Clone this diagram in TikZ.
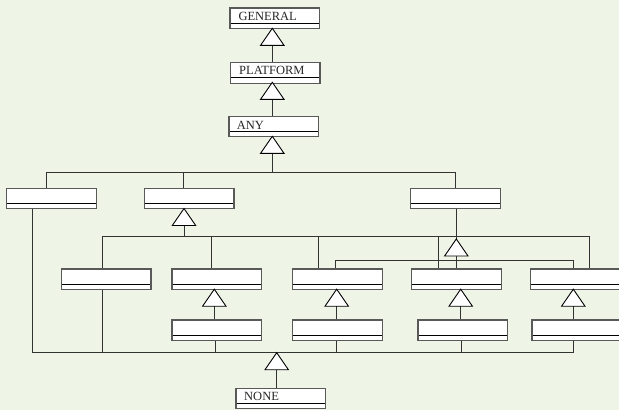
\documentclass[tikz,border=0pt]{standalone}
\usepackage{fontspec}
\setmainfont{Liberation Serif}
\definecolor{bgc}{RGB}{238,244,230}
\begin{document}
\begin{tikzpicture}[x=1pt,y=-1pt,
  cls/.style={draw=black!65, line width=1.2pt, fill=white, rectangle, inner sep=0pt,
    minimum height=20.5pt, anchor=north west,
    path picture={\draw[black, line width=0.8pt]
      ([yshift=5.5pt]path picture bounding box.south west) --
      ([yshift=5.5pt]path picture bounding box.south east);}},
  conn/.style={draw=black!80, line width=0.9pt},
  tris/.style={draw=black, line width=0.9pt, fill=white, line join=miter},
  tri/.pic={\draw[tris] (0,0) -- (-11.7,17) -- (11.7,17) -- cycle;
            \coordinate (-base) at (0,17);},
  lbl/.style={anchor=base west, inner sep=0pt, font=\fontsize{12.5}{14}\selectfont, text=black!85}
]
\fill[bgc] (0,0) rectangle (619,410);
\useasboundingbox (0,0) rectangle (619,410);

% ---------- coordinates of buses ----------
\coordinate (h1) at (272.3,172);
\coordinate (j1) at (46,172);
\coordinate (j2) at (183,172);
\coordinate (j3) at (455.5,172);
\coordinate (b1w) at (102.3,236);
\coordinate (b1e) at (589,236);
\coordinate (b2w) at (335.7,260.3);
\coordinate (b2e) at (573.3,260.3);
\coordinate (bw) at (32.3,352.7);
\coordinate (be) at (573.3,352.7);

% ---------- boxes ----------
\node[cls, minimum width=89.7] (gen)  at (229.3,7.3) {};
\node[cls, minimum width=89.6] (plat) at (229.7,62) {};
\node[cls, minimum width=89.7] (any)  at (228.3,115.7) {};
\node[cls, minimum width=89.7] (l2a)  at (6,187.7) {};
\node[cls, minimum width=89.3] (l2b)  at (144,187.7) {};
\node[cls, minimum width=89.7] (l2c)  at (410,187.7) {};
\node[cls, minimum width=89.6] (r3a)  at (60.7,268.3) {};
\node[cls, minimum width=89.4] (r3b)  at (171.3,268.3) {};
\node[cls, minimum width=90]   (r3c)  at (291.7,268.3) {};
\node[cls, minimum width=89.7] (r3d)  at (411,268.3) {};
\node[cls, minimum width=92]   (r3e)  at (530,268.3) {};
\node[cls, minimum width=89.4] (r4b)  at (171.3,319.3) {};
\node[cls, minimum width=89.7] (r4c)  at (292,319.3) {};
\node[cls, minimum width=89.7] (r4d)  at (417.3,319.3) {};
\node[cls, minimum width=92]   (r4e)  at (531.3,319.3) {};
\node[cls, minimum width=89.7] (none) at (235.3,387.7) {};

% ---------- connectors ----------
\draw[conn] (272.3,45.3) -- (272.3,0 |- plat.north);
\draw[conn] (272.3,99.5) -- (272.3,0 |- any.north);
\draw[conn] (272.3,153) -- (h1);
\draw[conn] (j1) -- (j3);
\draw[conn] (j1) -- (j1 |- l2a.north);
\draw[conn] (j2) -- (j2 |- l2b.north);
\draw[conn] (j3) -- (j3 |- l2c.north);
% under l2b
\draw[conn] (184,225) -- (184,0 |- b1w);
\draw[conn] (b1w) -- (b1e);
\draw[conn] (b1w) -- (b1w |- r3a.north);
\draw[conn] (211,236) -- (211,0 |- r3b.north);
\draw[conn] (318,236) -- (318,0 |- r3c.north);
\draw[conn] (438.3,236) -- (438.3,0 |- r3d.north);
\draw[conn] (b1e) -- (b1e |- r3e.north);
% under l2c
\draw[conn] (456.3,0 |- l2c.south) -- (456.3,239);
\draw[conn] (456.3,256) -- (456.3,0 |- r3d.north);
\draw[conn] (b2w) -- (b2e);
\draw[conn] (b2w) -- (b2w |- r3c.north);
\draw[conn] (b2e) -- (b2e |- r3e.north);
% row 3 to row 4
\draw[conn] (214.3,305) -- (214.3,0 |- r4b.north);
\draw[conn] (336.7,305) -- (336.7,0 |- r4c.north);
\draw[conn] (460.7,305) -- (460.7,0 |- r4d.north);
\draw[conn] (573.3,305) -- (573.3,0 |- r4e.north);
% bottom bus
\draw[conn] (bw) -- (be);
\draw[conn] (bw) -- (bw |- l2a.south);
\draw[conn] (102,352.7) -- (102,0 |- r3a.south);
\draw[conn] (215,352.7) -- (215,0 |- r4b.south);
\draw[conn] (336.7,352.7) -- (336.7,0 |- r4c.south);
\draw[conn] (461,352.7) -- (461,0 |- r4d.south);
\draw[conn] (be) -- (be |- r4e.south);
\draw[conn] (276.7,370) -- (276.7,0 |- none.north);

% ---------- triangles ----------
\pic (t1) at (272.3,28.3) {tri};
\pic (t2) at (272.3,82.3) {tri};
\pic (t3) at (272.3,136.3) {tri};
\pic (t4) at (184,208.5) {tri};
\pic (t5) at (456.3,239) {tri};
\pic (t6) at (214.3,289.2) {tri};
\pic (t7) at (336.7,289.2) {tri};
\pic (t8) at (460.7,289.2) {tri};
\pic (t9) at (573.3,289.2) {tri};
\pic (t10) at (276.7,352.7) {tri};

% ---------- labels ----------
\node[lbl] (lg) at (238.3,20.7) {GENERAL};
\node[lbl] (lp) at (239,74.7) {PLATFORM};
\node[lbl] (la) at (236.7,129.3) {ANY};
\node[lbl] (ln) at (244,400.7) {NONE};
\end{tikzpicture}
\end{document}
